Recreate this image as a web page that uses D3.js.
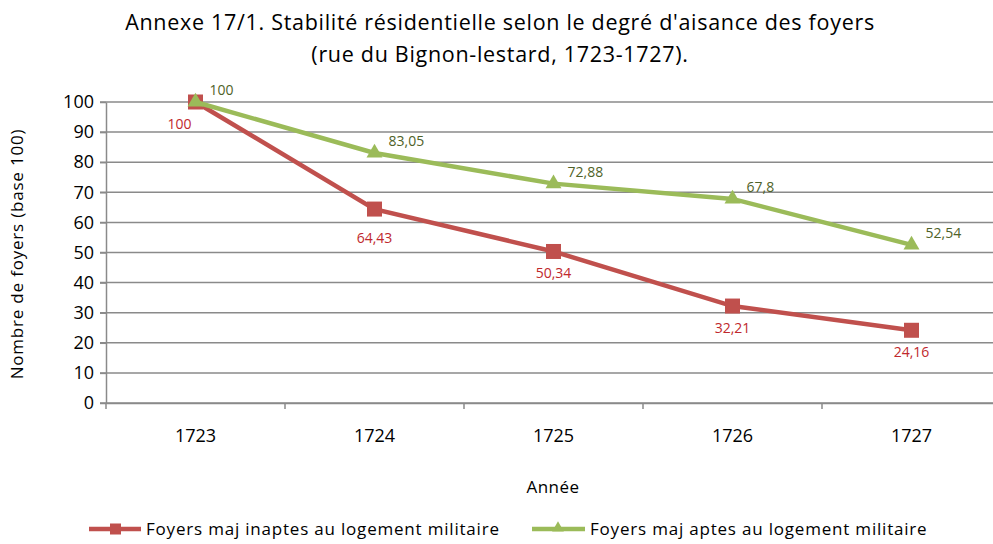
<!DOCTYPE html>
<html>
<head>
<meta charset="utf-8">
<script src="https://cdn.jsdelivr.net/npm/d3@7"></script>
<style>
  body { margin: 0; background: #fff; }
  svg { display: block; font-family: "Open Sans", sans-serif; }
</style>
</head>
<body>
<div class="g-chart"></div>
<script>
var years = ["1723", "1724", "1725", "1726", "1727"];
var inaptes = [100, 64.43, 50.34, 32.21, 24.16];
var aptes = [100, 83.05, 72.88, 67.8, 52.54];
var yTicks = [0, 10, 20, 30, 40, 50, 60, 70, 80, 90, 100];
var seriesNames = ["Foyers maj inaptes au logement militaire", "Foyers maj aptes au logement militaire"];

var width = 993, height = 544;
var margin = {top: 102, right: -8, bottom: 141, left: 106};

var svg = d3.select(".g-chart").append("svg")
    .attr("width", width)
    .attr("height", height);

var xScale = d3.scaleBand().domain(years).range([margin.left, width - margin.right]);
var yScale = d3.scaleLinear().domain([0, 100]).range([height - margin.bottom, margin.top]);

var fmt = function(v) { return String(v).replace(".", ","); };

// title
svg.append("text")
    .attr("x", 500).attr("y", 30)
    .attr("text-anchor", "middle")
    .style("font-size", "21.5px")
    .style("letter-spacing", "0.7px")
    .text("Annexe 17/1. Stabilité résidentielle selon le degré d'aisance des foyers");
svg.append("text")
    .attr("x", 500).attr("y", 62)
    .attr("text-anchor", "middle")
    .style("font-size", "21.5px")
    .style("letter-spacing", "0.7px")
    .text("(rue du Bignon-lestard, 1723-1727).");

// gridlines
svg.append("g")
    .selectAll("line")
    .data(yTicks)
    .enter().append("line")
    .attr("x1", margin.left - 6)
    .attr("x2", width)
    .attr("y1", d => yScale(d))
    .attr("y2", d => yScale(d))
    .style("stroke", "#8a8a8a")
    .style("stroke-width", "1.5px");

// Y axis
var yAxis = d3.axisLeft(yScale).tickValues(yTicks).tickSize(6).tickSizeOuter(0).tickPadding(6);
var gy = svg.append("g")
    .attr("transform", `translate(${margin.left},0)`)
    .call(yAxis);
gy.select(".domain").style("stroke", "#8a8a8a").style("stroke-width", "1.5px");
gy.selectAll(".tick line").style("stroke", "#8a8a8a").style("stroke-width", "1.5px");
gy.selectAll("text").style("font-size", "18px").style("font-family", "Open Sans").attr("fill", "#000");

// X axis
var xAxis = d3.axisBottom(xScale).tickSize(0).tickPadding(26);
var gx = svg.append("g")
    .attr("transform", `translate(0,${yScale(0)})`)
    .call(xAxis);
gx.select(".domain").style("stroke", "#8a8a8a").style("stroke-width", "1.5px");
gx.selectAll("text").style("font-size", "18px").style("font-family", "Open Sans").attr("fill", "#000");

// x tick marks at band boundaries
var bounds = years.map(d => xScale(d)).concat([xScale(years[years.length - 1]) + xScale.bandwidth()]);
svg.append("g")
    .selectAll("line")
    .data(bounds)
    .enter().append("line")
    .attr("x1", d => d).attr("x2", d => d)
    .attr("y1", yScale(0)).attr("y2", yScale(0) + 6)
    .style("stroke", "#8a8a8a")
    .style("stroke-width", "1.5px");

// axis titles
svg.append("text")
    .attr("transform", "translate(23,254) rotate(-90)")
    .attr("text-anchor", "middle")
    .style("font-size", "17px")
    .style("letter-spacing", "0.8px")
    .text("Nombre de foyers (base 100)");
svg.append("text")
    .attr("x", 553).attr("y", 493)
    .attr("text-anchor", "middle")
    .style("font-size", "17px")
    .style("letter-spacing", "0.5px")
    .text("Année");

var cx = d => xScale(d) + xScale.bandwidth() / 2;
var line = d3.line().x(d => cx(d.year)).y(d => yScale(d.value));

var redData = years.map((y, i) => ({year: y, value: inaptes[i]}));
var greenData = years.map((y, i) => ({year: y, value: aptes[i]}));

var red = "#C0504D", green = "#9BBB59";
var tri = d3.symbol().type(d3.symbolTriangle).size(110);

// red series
svg.append("path")
    .datum(redData)
    .attr("d", line)
    .style("fill", "none")
    .style("stroke", red)
    .style("stroke-width", "4.5px");
svg.selectAll(".sq")
    .data(redData)
    .enter().append("rect")
    .attr("class", "sq")
    .attr("x", d => cx(d.year) - 7.5)
    .attr("y", d => yScale(d.value) - 7.5)
    .attr("width", 15).attr("height", 15)
    .style("fill", red);

// green series
svg.append("path")
    .datum(greenData)
    .attr("d", line)
    .style("fill", "none")
    .style("stroke", green)
    .style("stroke-width", "4.5px");
svg.selectAll(".tri")
    .data(greenData)
    .enter().append("path")
    .attr("class", "tri")
    .attr("d", tri)
    .attr("transform", d => `translate(${cx(d.year)},${yScale(d.value)})`)
    .style("fill", green);

// labels
svg.selectAll(".lblr")
    .data(redData)
    .enter().append("text")
    .attr("class", "lblr")
    .attr("x", (d, i) => i === 0 ? cx(d.year) - 4 : cx(d.year))
    .attr("y", (d, i) => yScale(d.value) + (i === 1 ? 29 : 22))
    .attr("dy", "0.35em")
    .attr("text-anchor", (d, i) => i === 0 ? "end" : "middle")
    .style("font-size", "14px")
    .style("fill", "#C0282D")
    .text(d => fmt(d.value));
svg.selectAll(".lblg")
    .data(greenData)
    .enter().append("text")
    .attr("class", "lblg")
    .attr("x", d => cx(d.year) + 14)
    .attr("y", d => yScale(d.value) - 12)
    .attr("dy", "0.35em")
    .style("font-size", "14px")
    .style("fill", "#4F6228")
    .text(d => fmt(d.value));

// legend
var leg = svg.append("g").attr("transform", "translate(0,529)");
leg.append("line").attr("x1", 89).attr("x2", 141).attr("y1", 0).attr("y2", 0)
    .style("stroke", red).style("stroke-width", "4.5px");
leg.append("rect").attr("x", 110).attr("y", -5.5).attr("width", 11).attr("height", 11).style("fill", red);
leg.append("text").attr("x", 146).attr("y", 0).attr("dy", "0.35em")
    .style("font-size", "17px").style("letter-spacing", "0.8px").text(seriesNames[0]);
leg.append("line").attr("x1", 532).attr("x2", 585).attr("y1", 0).attr("y2", 0)
    .style("stroke", green).style("stroke-width", "4.5px");
leg.append("path").attr("d", d3.symbol().type(d3.symbolTriangle).size(60))
    .attr("transform", "translate(558,-1)").style("fill", green);
leg.append("text").attr("x", 590).attr("y", 0).attr("dy", "0.35em")
    .style("font-size", "17px").style("letter-spacing", "0.8px").text(seriesNames[1]);
</script>
</body>
</html>
